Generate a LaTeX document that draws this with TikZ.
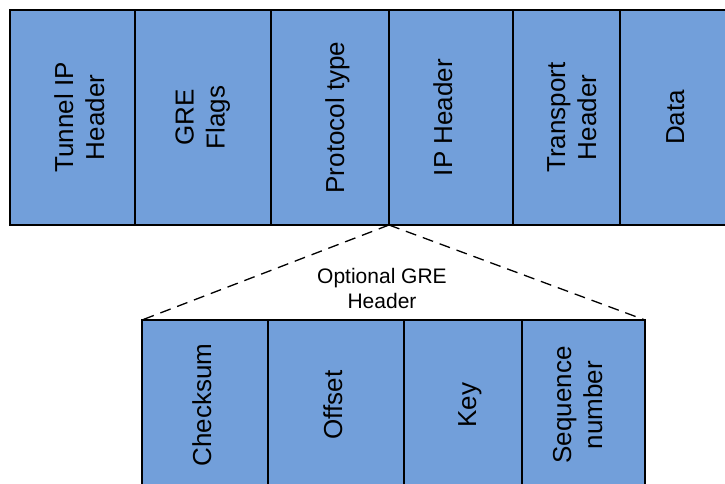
\documentclass[tikz,border=0pt]{standalone}
\usepackage{fontspec}
\setmainfont{Liberation Sans}
\usetikzlibrary{positioning}
\definecolor{fieldblue}{RGB}{114,159,218}
\tikzset{
  field/.style={draw, fill=fieldblue, line width=1.3pt, inner sep=0pt, outer sep=0pt,
    anchor=north west, font=\fontsize{26}{31}\selectfont},
  outerfield/.style={field, minimum height=215pt},
  grefield/.style={field, minimum height=170pt},
  spread/.style={draw, line width=1.3pt, dash pattern=on 11pt off 7pt},
}
% rotated text, optional shift to the right (twice the wanted offset)
\newcommand{\vlabel}[2][0pt]{\hspace*{#1}\rotatebox{90}{\begin{tabular}{@{}c@{}}#2\end{tabular}}}
\begin{document}
\begin{tikzpicture}[x=1pt,y=-1pt]
\useasboundingbox (0,0) rectangle (725,484);
\clip (0,0) rectangle (725,484);
% outer packet
\node[outerfield, minimum width=125pt] (tunnel) at (10,10) {\vlabel[20pt]{Tunnel IP\\Header}};
\node[outerfield, minimum width=136pt, right=0pt of tunnel] (flags) {\vlabel{GRE\\Flags}};
\node[outerfield, minimum width=118pt, right=0pt of flags] (proto) {\vlabel[16pt]{Protocol type}};
\node[outerfield, minimum width=124pt, right=0pt of proto] (iphdr) {\vlabel[-10pt]{IP Header}};
\node[outerfield, minimum width=107pt, right=0pt of iphdr] (transp) {\vlabel[16pt]{Transport\\Header}};
\node[outerfield, minimum width=110pt, right=0pt of transp] (data) {\vlabel[6pt]{Data}};
% optional GRE header
\node[grefield, minimum width=126pt] (csum) at (142,320) {\vlabel{Checksum}};
\node[grefield, minimum width=136pt, right=0pt of csum] (offset) {\vlabel{Offset}};
\node[grefield, minimum width=118pt, right=0pt of offset] (key) {\vlabel[14pt]{Key}};
\node[grefield, minimum width=123pt, right=0pt of key] (seq) {\vlabel[-6pt]{Sequence\\number}};
\draw[spread] (proto.south east) -- (csum.north west);
\draw[spread] (proto.south east) -- (seq.north east);
\node[font=\fontsize{21}{25}\selectfont, align=center] (opt) at (382,288) {Optional GRE\\Header};
\end{tikzpicture}
\end{document}
